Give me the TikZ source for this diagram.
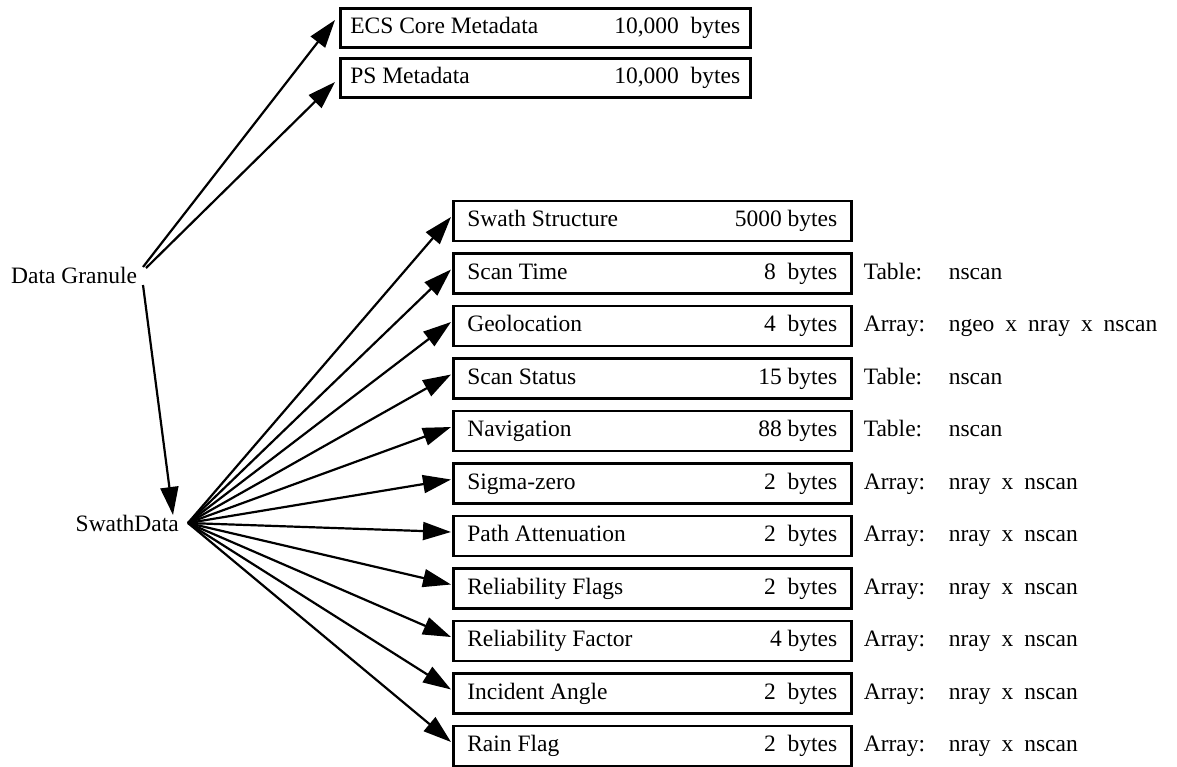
\documentclass[tikz,border=0pt]{standalone}
\usepackage{fontspec}
\setmainfont{Liberation Serif}
\usetikzlibrary{arrows.meta}
\newcommand\rowtxt[2]{\makebox[370pt]{#1\hfill #2}}
\newcommand\toptxt[2]{\makebox[390pt]{#1\hfill #2}}
\newcommand\lblhead[1]{\makebox[85pt][l]{#1}}
\begin{document}
\begin{tikzpicture}[x=1pt,y=-1pt,
  every node/.style={font=\fontsize{23.5}{27}\selectfont, inner sep=0pt},
  databox/.style={draw, line width=2.6pt, minimum height=40pt, inner xsep=14pt, anchor=west},
  topbox/.style={draw, line width=2.6pt, minimum height=39pt, inner xsep=10pt, anchor=west},
  arr/.style={line width=2.2pt, -{Triangle[length=28pt,width=18pt]}},
  lbl/.style={anchor=base west}]
\useasboundingbox (0,0) rectangle (1177,766);

% top boxes
\node[topbox] (ecs) at (339,28) {\toptxt{ECS Core Metadata}{10,000\ \ bytes}};
\node[topbox] (ps)  at (339,78) {\toptxt{PS Metadata}{10,000\ \ bytes}};

% sources
\node[anchor=west] (dg) at (11,275) {Data Granule};
\node[anchor=east] (sd) at (179,523) {SwathData};
\coordinate (dgA) at (143,267);
\coordinate (dgB) at (146,268);
\coordinate (dgC) at (143,285);
\coordinate (sdTip) at (173,515);
\coordinate (sdo) at (188,523);

% swath boxes
\node[databox] (b1)  at (452,221) {\rowtxt{Swath Structure}{5000 bytes}};
\node[databox] (b2)  at (452,273.5) {\rowtxt{Scan Time}{8\ \ bytes}};
\node[databox] (b3)  at (452,326) {\rowtxt{Geolocation}{4\ \ bytes}};
\node[databox] (b4)  at (452,378.5) {\rowtxt{Scan Status}{15 bytes}};
\node[databox] (b5)  at (452,431) {\rowtxt{Navigation}{88 bytes}};
\node[databox] (b6)  at (452,483.5) {\rowtxt{Sigma-zero}{2\ \ bytes}};
\node[databox] (b7)  at (452,536) {\rowtxt{Path Attenuation}{2\ \ bytes}};
\node[databox] (b8)  at (452,588.5) {\rowtxt{Reliability Flags}{2\ \ bytes}};
\node[databox] (b9)  at (452,641) {\rowtxt{Reliability Factor}{4 bytes}};
\node[databox] (b10) at (452,693.5) {\rowtxt{Incident Angle}{2\ \ bytes}};
\node[databox] (b11) at (452,746) {\rowtxt{Rain Flag}{2\ \ bytes}};

% right labels
\node[lbl] (l2)  at ([xshift=11pt]b2.base east) {\lblhead{Table:}nscan};
\node[lbl] (l3)  at ([xshift=11pt]b3.base east) {\lblhead{Array:}ngeo\hspace{11pt}x\hspace{11pt}nray\hspace{11pt}x\hspace{11pt}nscan};
\node[lbl] (l4)  at ([xshift=11pt]b4.base east) {\lblhead{Table:}nscan};
\node[lbl] (l5)  at ([xshift=11pt]b5.base east) {\lblhead{Table:}nscan};
\foreach \i in {6,...,11}{
  \node[lbl] (l\i) at ([xshift=11pt]b\i.base east) {\lblhead{Array:}nray\hspace{11pt}x\hspace{11pt}nscan};
}

% arrows
\draw[arr] (dgA) -- ([shift={(-4pt,8pt)}]ecs.west);
\draw[arr] (dgB) -- ([shift={(-4pt,-4pt)}]ps.west);
\draw[arr] (dgC) -- (sdTip);
\foreach \i in {1,...,11}{
  \draw[arr] (sdo) -- ([shift={(-1pt,4pt)}]b\i.west);
}
\end{tikzpicture}
\end{document}
